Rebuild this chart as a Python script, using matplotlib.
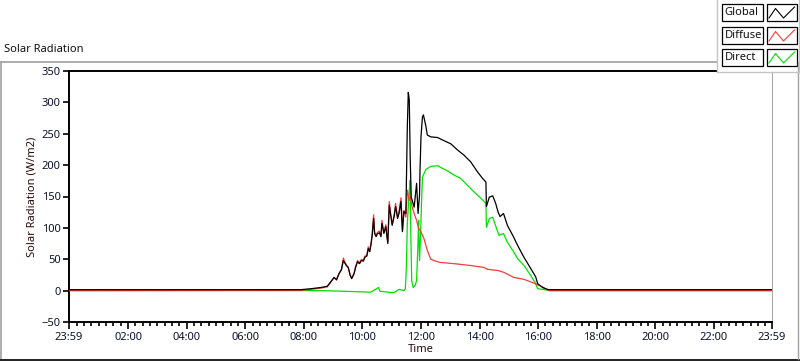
import matplotlib
matplotlib.use("Agg")
import matplotlib.pyplot as plt
from matplotlib.patches import Rectangle
from matplotlib.lines import Line2D
import numpy as np

plt.rcParams['font.family'] = ['Noto Sans', 'DejaVu Sans']
plt.rcParams['font.size'] = 8

# --- data (time of day HH:MM, W/m2) ---
global_times = ["00:00", "07:54", "08:14", "08:35", "08:48", "08:55", "09:02", "09:07", "09:12",
                "09:17", "09:21", "09:24", "09:28", "09:31", "09:35", "09:38", "09:43", "09:46",
                "09:50", "09:54", "09:58", "10:02", "10:05", "10:09", "10:12", "10:15", "10:18",
                "10:20", "10:23", "10:25", "10:28", "10:31", "10:35", "10:38", "10:40", "10:44",
                "10:48", "10:50", "10:52", "10:55", "10:58", "11:01", "11:05", "11:08", "11:12",
                "11:15", "11:19", "11:22", "11:25", "11:29", "11:32", "11:34", "11:36", "11:38",
                "11:40", "11:42", "11:46", "11:51", "11:54", "11:57", "11:58", "12:00", "12:03",
                "12:05", "12:10", "12:13", "12:20", "12:34", "12:47", "13:01", "13:15", "13:28",
                "13:42", "13:56", "14:06", "14:13", "14:14", "14:20", "14:27", "14:33", "14:38",
                "14:42", "14:49", "14:57", "15:08", "15:18", "15:31", "15:45", "15:55", "15:59",
                "16:09", "16:19", "16:24", "23:59"]
global_vals = [1.5, 1.5, 3, 5, 7, 14, 21, 17, 27,
               33, 48, 44, 39, 37, 24, 19, 27, 37,
               46, 43, 48, 47, 53, 55, 67, 62, 75,
               88, 115, 91, 86, 91, 92, 86, 107, 91,
               102, 88, 75, 136, 120, 104, 118, 134, 115,
               123, 142, 94, 126, 123, 261, 316, 304, 208,
               149, 144, 133, 171, 123, 152, 192, 245, 277,
               280, 262, 248, 245, 244, 239, 234, 224, 216,
               205, 189, 179, 173, 134, 149, 151, 139, 125,
               118, 123, 104, 88, 72, 53, 35, 22, 11,
               5, 2, 1.5, 1.5]

diffuse_times = ["00:00", "07:54", "08:14", "08:35", "08:48", "08:55", "09:02", "09:07", "09:12",
                 "09:17", "09:21", "09:24", "09:28", "09:31", "09:35", "09:38", "09:43", "09:46",
                 "09:50", "09:54", "09:58", "10:02", "10:05", "10:09", "10:12", "10:15", "10:18",
                 "10:20", "10:23", "10:25", "10:28", "10:31", "10:35", "10:38", "10:40", "10:44",
                 "10:48", "10:50", "10:52", "10:55", "10:58", "11:01", "11:05", "11:08", "11:12",
                 "11:15", "11:19", "11:22", "11:25", "11:29", "11:32", "11:36", "11:38", "11:42",
                 "11:46", "11:51", "11:55", "11:59", "12:06", "12:13", "12:20", "12:30", "12:39",
                 "13:07", "13:42", "14:09", "14:16", "14:38", "14:50", "15:10", "15:31", "15:51",
                 "16:06", "16:22", "23:59"]
diffuse_vals = [0, 0.5, 2, 4, 6, 13, 21, 18, 27,
                34, 52, 45, 40, 37, 25, 20, 28, 38,
                48, 44, 50, 48, 55, 56, 70, 63, 78,
                90, 121, 93, 88, 93, 95, 88, 112, 93,
                105, 89, 77, 142, 122, 106, 121, 139, 117,
                126, 148, 96, 128, 117, 160, 144, 149, 133,
                123, 112, 99, 95, 83, 64, 50, 47, 45,
                43, 40, 37, 34, 32, 29, 21, 18, 12,
                7, 0, 0]

direct_times = ["00:00", "07:54", "08:35", "09:21", "10:02", "10:17", "10:33", "10:36", "10:48",
                "10:58", "11:05", "11:15", "11:25", "11:28", "11:30", "11:32", "11:36", "11:38",
                "11:39", "11:41", "11:44", "11:48", "11:51", "11:54", "11:55", "11:57", "11:59",
                "12:01", "12:03", "12:10", "12:20", "12:34", "12:41", "12:54", "13:08", "13:21",
                "13:35", "13:49", "14:03", "14:13", "14:14", "14:20", "14:27", "14:33", "14:40",
                "14:49", "14:57", "15:08", "15:18", "15:31", "15:45", "15:55", "15:59", "16:09",
                "16:23", "23:59"]
direct_vals = [0, 0, 0, -1, -2, -2.5, 5, -1, -2,
               -3, -3, 2, 0, 3, 37, 107, 160, 176,
               96, 16, 5, 8, 16, 80, 112, 48, 85,
               139, 181, 193, 198, 199, 196, 191, 184, 179,
               168, 157, 147, 139, 101, 115, 117, 103, 88,
               91, 77, 64, 51, 40, 24, 11, 3, 2,
               0, 0]

series_names = ["Global", "Diffuse", "Direct"]
series_colors = ["#000000", "#ff3a3a", "#00e000"]

tick_hours = [-1 / 60] + list(range(2, 24, 2)) + [24 - 1 / 60]
tick_labels = ["23:59"] + ["%02d:00" % h for h in range(2, 24, 2)] + ["23:59"]


def to_hours(ts):
    out = []
    for t in ts:
        h, m = t.split(":")
        out.append(int(h) + int(m) / 60.0)
    return np.array(out)


W, H = 800, 361
fig = plt.figure(figsize=(W / 100, H / 100), dpi=100)
fig.patch.set_facecolor("white")


def fx(x):
    return x / W


def fy(y):
    return 1 - y / H


ax = fig.add_axes([fx(69), fy(322), (772 - 69) / W, (322 - 71) / H])

# draw direct underneath, diffuse next, global on top
ax.plot(to_hours(direct_times), direct_vals, color=series_colors[2], lw=0.9, zorder=2)
ax.plot(to_hours(diffuse_times), diffuse_vals, color=series_colors[1], lw=0.9, zorder=3)
ax.plot(to_hours(global_times), global_vals, color=series_colors[0], lw=0.9, zorder=4)

ax.set_xlim(-1 / 60, 24 - 1 / 60)
ax.set_ylim(-50, 350)
ax.set_yticks(range(-50, 351, 50))
ax.set_xticks(tick_hours)
ax.set_xticklabels(tick_labels)
ax.set_xticks([q / 4 for q in range(1, 96) if q % 8 != 0], minor=True)

ax.tick_params(axis="both", which="major", direction="out", length=5, width=1.2,
               colors="#000000", labelcolor="#101030", labelsize=8, pad=2)
ax.tick_params(axis="x", which="minor", direction="out", length=3, width=1.2, colors="#000000")
ax.tick_params(axis="y", which="major", length=4)

for side in ["left", "top", "bottom"]:
    ax.spines[side].set_color("#000000")
    ax.spines[side].set_linewidth(1.4)
ax.spines["right"].set_color("#a8a8a8")
ax.spines["right"].set_linewidth(0.8)

ax.set_ylabel("Solar Radiation (W/m2)", color="#2a0a0a", fontsize=8, labelpad=3)
ax.set_xlabel("Time", color="#2a0a0a", fontsize=8, labelpad=1)

# title
fig.text(fx(4), fy(50), "Solar Radiation", ha="left", va="center", fontsize=8, color="#101010")

# outer frame
frame_gray = "#a0a0a0"
fig.add_artist(Line2D([fx(0), fx(717)], [fy(62), fy(62)], color=frame_gray, lw=1.2))
fig.add_artist(Line2D([fx(0.7), fx(0.7)], [fy(62), fy(359)], color=frame_gray, lw=1.2))
fig.add_artist(Line2D([fx(0), fx(800)], [fy(359.5), fy(359.5)], color="#202020", lw=1.4))
fig.add_artist(Line2D([fx(798), fx(798)], [fy(62), fy(359)], color=frame_gray, lw=1.0))

# legend panel
leg_gray = "#c4c4c4"
fig.add_artist(Rectangle((fx(717), fy(72)), 83 / W, 72 / H, transform=fig.transFigure,
                         facecolor="white", edgecolor="none"))
fig.add_artist(Line2D([fx(717), fx(717)], [fy(0), fy(72)], color=leg_gray, lw=1.0))
fig.add_artist(Line2D([fx(717), fx(800)], [fy(72), fy(72)], color=leg_gray, lw=1.0))
fig.add_artist(Line2D([fx(799.3), fx(799.3)], [fy(0), fy(72)], color=leg_gray, lw=1.0))

box_tops = [4, 27, 49]
for name, color, top in zip(series_names, series_colors, box_tops):
    bot = top + 17
    fig.add_artist(Rectangle((fx(722), fy(bot)), 41 / W, 17 / H, transform=fig.transFigure,
                             facecolor="white", edgecolor="black", lw=0.9))
    fig.text(fx(724.5), fy((top + bot) / 2), name, ha="left", va="center", fontsize=8,
             color="#101010")
    fig.add_artist(Rectangle((fx(767), fy(bot)), 30 / W, 17 / H, transform=fig.transFigure,
                             facecolor="white", edgecolor="black", lw=0.9))
    fig.add_artist(Line2D([fx(769), fx(775.5), fx(783.5), fx(794.5)],
                          [fy(bot - 3), fy(top + 4.5), fy(bot - 3), fy(top + 3)],
                          color=color, lw=0.8))

fig.savefig("out.png", dpi=100)
